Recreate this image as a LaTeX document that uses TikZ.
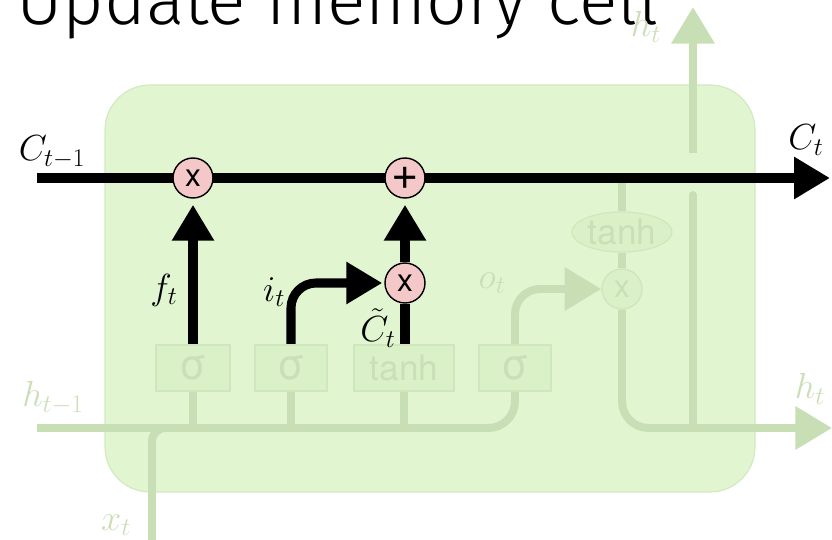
\RequirePackage{fix-cm}
\documentclass[tikz,border=0pt]{standalone}
\usepackage{fontspec}
\usetikzlibrary{arrows.meta,positioning,shapes.geometric}
\newfontfamily\titlefont{Fira Sans}[UprightFont=* Light]
\newfontfamily\gatefont{TeX Gyre Heros}
\definecolor{cellgreen}{HTML}{E0F5D0}
\definecolor{celledge}{HTML}{D2EAC1}
\definecolor{fadeline}{HTML}{C8DFB6}
\definecolor{gatefill}{HTML}{DAF0C6}
\definecolor{gateedge}{HTML}{D0E6BE}
\definecolor{fadetext}{HTML}{CADFB8}
\definecolor{oppink}{HTML}{F4C7C9}
\pgfdeclarelayer{cellbg}
\pgfdeclarelayer{wires}
\pgfsetlayers{cellbg,wires,main}
\tikzset{
  cstate/.style={draw=black,line width=7.7pt},
  fadewire/.style={draw=fadeline,line width=6.8pt},
  bigtip/.style={-{Triangle[length=1.08cm,width=1.2cm]}},
  fadetip/.style={-{Triangle[length=1.1cm,width=1.25cm]}},
  gate/.style={draw=gateedge,fill=gatefill,line width=1pt,text=fadetext,
    minimum height=1.38cm,inner sep=0pt,font=\gatefont\fontsize{36}{36}\selectfont},
  op/.style={circle,draw=black,fill=oppink,line width=1.2pt,minimum size=1.2cm,
    inner sep=0pt,font=\gatefont\fontsize{27}{27}\selectfont},
  fadeop/.style={op,draw=gateedge,fill=gatefill,text=fadetext},
  lbl/.style={font=\fontsize{31}{36}\selectfont},
  fadelbl/.style={lbl,text=fadetext},
}
\begin{document}
\begin{tikzpicture}[x=0.03cm,y=-0.03cm]
  \useasboundingbox (0,0) rectangle (832,540);
  % the cell
  \begin{pgfonlayer}{cellbg}
    \draw[fill=cellgreen,draw=celledge,line width=1pt,rounded corners=1.35cm]
      (105,85) rectangle (755,492);
  \end{pgfonlayer}
  \node[anchor=base west,font=\titlefont\fontsize{61}{61}\selectfont] (title) at (12,25) {Update memory cell};

  % gates
  \node[gate,minimum width=2.22cm] (sf) at (193,368) {σ};
  \node[gate,minimum width=2.16cm] (si) at (291,368) {σ};
  \node[gate,minimum width=3cm,font=\gatefont\fontsize{30}{30}\selectfont] (st) at (404,368) {tanh};
  \node[gate,minimum width=2.16cm] (so) at (515,368) {σ};

  % pointwise ops
  \node[op] (mulf) at (193,178) {x};
  \node[op,font=\gatefont\fontsize{40}{40}\selectfont] (add) at (405,178) {+};
  \node[op] (muli) at (405,283) {x};
  \node[fadeop] (mulo) at (622,289) {x};
  \node[ellipse,draw=gateedge,fill=gatefill,line width=1pt,minimum width=3cm,
    minimum height=1.2cm,inner sep=0pt,text=fadetext,
    font=\gatefont\fontsize{30}{30}\selectfont] (tanhc) at (622,232) {tanh};

  \coordinate (cin) at (37,178);
  \coordinate (cout) at (830,178);
  \coordinate (hin) at (37,428);
  \coordinate (hout) at (832,428);
  \coordinate (xin) at (152,540);
  \coordinate (hup) at (693,7);
  \coordinate (hgap) at (693,195);
  \coordinate (hres) at (693,153);

  % wires
  \begin{pgfonlayer}{wires}
    \draw[fadewire,rounded corners=0.8cm] (hin) -| (so.south);
    \draw[fadewire,rounded corners=0.4cm] (xin) |- (sf.south |- hin);
    \foreach \g in {sf,si,st}
      \draw[fadewire] (\g.south) -- (\g.south |- hin);
    \draw[fadewire,fadetip,rounded corners=0.75cm] (so.north) |- (mulo.west);
    \draw[fadewire] (tanhc.north) -- (tanhc.north |- cin);
    \draw[fadewire] (tanhc.south) -- (mulo.north);
    \draw[fadewire,fadetip,rounded corners=0.8cm] (mulo.south) |- (hout);
    \draw[fadewire,line cap=round] (hup |- hout) -- (hgap);
    \draw[fadewire,fadetip] (hres) -- (hup);

    \draw[cstate,bigtip] (cin) -- (cout);
    \draw[cstate,bigtip,shorten >=0.18cm] (sf.north) -- (mulf.south);
    \draw[cstate,bigtip,rounded corners=0.75cm,shorten >=0.06cm] (si.north) |- (muli.west);
    \draw[cstate] (st.north -| muli) -- (muli.south);
    \draw[cstate,bigtip,shorten >=0.18cm] (muli.north) -- (add.south);
  \end{pgfonlayer}

  % labels
  \node[lbl] (clast) at (52,152) {$C_{t-1}$};
  \node[lbl] (cnext) at (806,140) {$C_t$};
  \node[lbl] (flbl) at (164,290) {$f_t$};
  \node[lbl] (ilbl) at (274,292) {$i_t$};
  \node[lbl] (ctil) at (378,328) {$\tilde{C}_t$};
  \node[fadelbl] (olbl) at (492,283) {$o_t$};
  \node[fadelbl] (htop) at (646,27) {$h_t$};
  \node[fadelbl] (hright) at (810,389) {$h_t$};
  \node[fadelbl] (hlast) at (53,398) {$h_{t-1}$};
  \node[fadelbl] (xlbl) at (116,525) {$x_t$};
\end{tikzpicture}
\end{document}
